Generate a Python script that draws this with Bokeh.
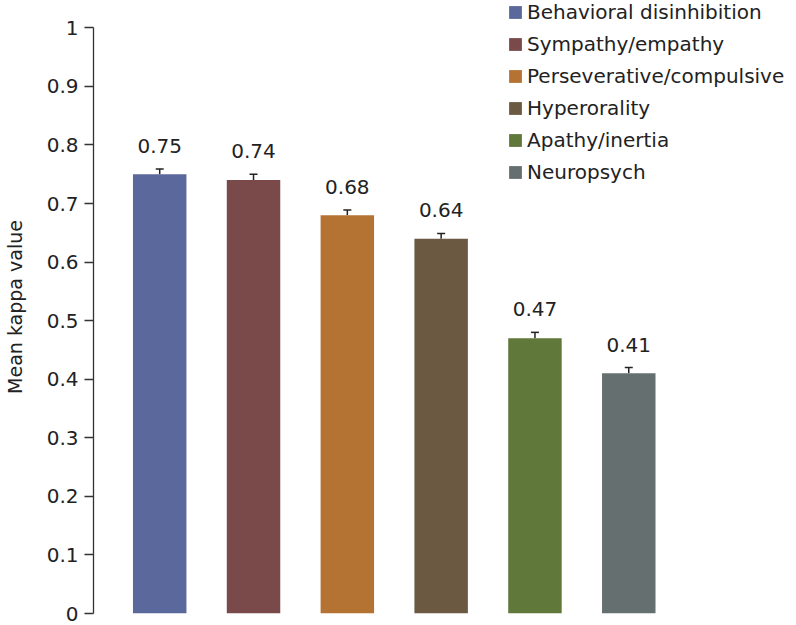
from bokeh.plotting import figure
from bokeh.models import (ColumnDataSource, Range1d, FixedTicker, Whisker, TeeHead,
                          Legend, LegendItem, LabelSet)
from bokeh.core.properties import value
from bokeh.embed import file_html
from bokeh.resources import INLINE

categories = ["Behavioral disinhibition", "Sympathy/empathy", "Perseverative/compulsive",
              "Hyperorality", "Apathy/inertia", "Neuropsych"]
kappa = [0.75, 0.74, 0.68, 0.64, 0.47, 0.41]
errors = [0.009, 0.010, 0.009, 0.009, 0.010, 0.010]
value_labels = ["0.75", "0.74", "0.68", "0.64", "0.47", "0.41"]
colors = ["#5a689b", "#7a4a4b", "#b47333", "#6b5a41", "#60783a", "#666f70"]
y_ticks = [0, 0.1, 0.2, 0.3, 0.4, 0.5, 0.6, 0.7, 0.8, 0.9, 1]
y_tick_labels = ["0", "0.1", "0.2", "0.3", "0.4", "0.5", "0.6", "0.7", "0.8", "0.9", "1"]

FONT = "DejaVu Sans"
TXT = "#222222"

positions = [i + 1 for i in range(len(categories))]
upper = [k + e for k, e in zip(kappa, errors)]
src = ColumnDataSource(dict(x=positions, top=kappa, upper=upper, color=colors,
                            cat=categories, lab=value_labels))

p = figure(width=796, height=625, x_range=Range1d(0.2942, 7.788), y_range=Range1d(0, 1.0466),
           x_axis_type=None, output_backend="svg", toolbar_location=None,
           min_border_left=92, min_border_right=0, min_border_top=0, min_border_bottom=12)
p.outline_line_color = None
p.grid.visible = False

bars = p.vbar(x="x", top="top", width=0.57, bottom=0, source=src,
              fill_color="color", line_color=None)

wh = Whisker(source=src, base="x", lower="top", upper="upper", dimension="height",
             line_color=TXT, line_width=1.5,
             upper_head=TeeHead(size=8, line_color=TXT, line_width=1.5), lower_head=None)
p.add_layout(wh)

labels = LabelSet(x="x", y="upper", text="lab", source=src, y_offset=16,
                  text_align="center", text_baseline="alphabetic",
                  text_font=value(FONT), text_font_size="20px", text_color=TXT)
p.add_layout(labels)

ax = p.yaxis[0]
ax.ticker = FixedTicker(ticks=y_ticks)
ax.major_label_overrides = dict(zip(y_ticks, y_tick_labels))
ax.bounds = (0, 1)
ax.minor_tick_line_color = None
ax.major_tick_in = 0
ax.major_tick_out = 9
ax.major_tick_line_color = "#333333"
ax.major_tick_line_width = 1.3
ax.axis_line_color = "#333333"
ax.axis_line_width = 1.3
ax.major_label_standoff = 6
ax.major_label_text_font = FONT
ax.major_label_text_font_size = "20px"
ax.major_label_text_color = TXT
ax.axis_label = "Mean kappa value"
ax.axis_label_text_font = FONT
ax.axis_label_text_font_size = "19px"
ax.axis_label_text_font_style = "normal"
ax.axis_label_text_color = TXT
ax.axis_label_standoff = 18

legend = Legend(items=[LegendItem(label=c, renderers=[bars], index=i)
                       for i, c in enumerate(categories)],
                location=(414, 429), padding=0, margin=0, spacing=8,
                glyph_width=16, glyph_height=16, label_standoff=4, label_height=20,
                label_text_font=FONT, label_text_font_size="20px", label_text_color=TXT,
                border_line_color=None, background_fill_alpha=0)
p.add_layout(legend)

open("out.html", "w").write(file_html(p, INLINE))
